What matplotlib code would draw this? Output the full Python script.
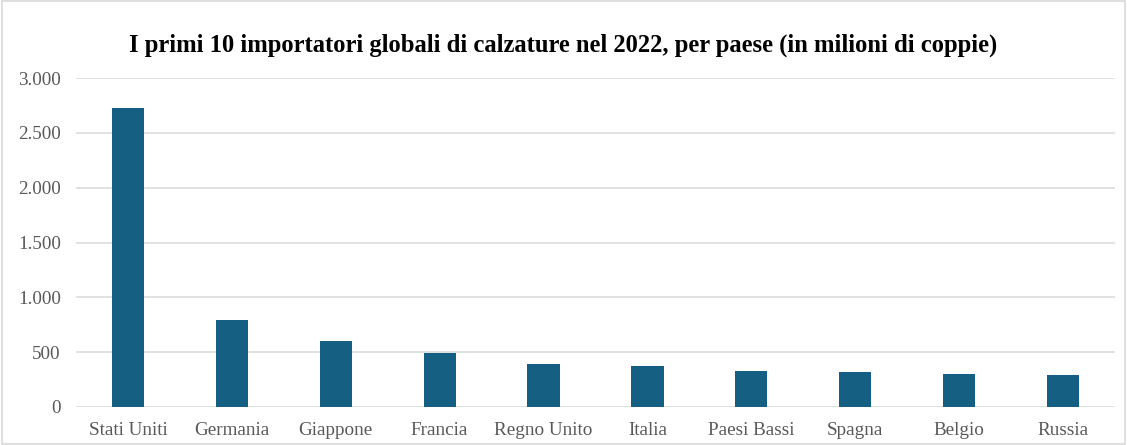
import matplotlib
matplotlib.use('Agg')
import matplotlib.pyplot as plt
from matplotlib.patches import Rectangle
from matplotlib.ticker import FuncFormatter

# data (milioni di coppie)
paesi = ['Stati Uniti', 'Germania', 'Giappone', 'Francia', 'Regno Unito',
         'Italia', 'Paesi Bassi', 'Spagna', 'Belgio', 'Russia']
importazioni = [2726, 793, 600, 493, 392, 378, 332, 323, 301, 292]

titolo = 'I primi 10 importatori globali di calzature nel 2022, per paese (in milioni di coppie)'

plt.rcParams['font.family'] = ['Liberation Serif', 'DejaVu Serif']

fig = plt.figure(figsize=(11.27, 4.45), dpi=100)
ax = fig.add_axes([0.0674, 0.0854, 0.9220, 0.7393])

x = range(len(paesi))
ax.bar(x, importazioni, width=0.31, color='#156082', zorder=3)

ax.set_xlim(-0.5, len(paesi) - 0.5)
ax.set_ylim(0, 3000)
ax.set_yticks(range(0, 3001, 500))
ax.yaxis.set_major_formatter(FuncFormatter(lambda v, p: f'{int(v):,}'.replace(',', '.')))
ax.set_xticks(list(x))
ax.set_xticklabels(paesi)

ax.grid(axis='y', color='#d9d9d9', linewidth=1.1, zorder=0)
for s in ['top', 'right', 'left', 'bottom']:
    ax.spines[s].set_visible(False)
ax.tick_params(axis='both', length=0, labelsize=13.8, labelcolor='#595959')
ax.tick_params(axis='y', pad=11)
ax.tick_params(axis='x', pad=11)

fig.text(0.5, 0.898, titolo, ha='center', va='center', fontsize=17.7,
         fontweight='bold', color='black')

# chart border
fig.patches.append(Rectangle((0.002, 0.002), 0.996, 0.996, transform=fig.transFigure,
                             fill=False, edgecolor='#d9d9d9', linewidth=1.2))

fig.savefig('out.png', dpi=100)
